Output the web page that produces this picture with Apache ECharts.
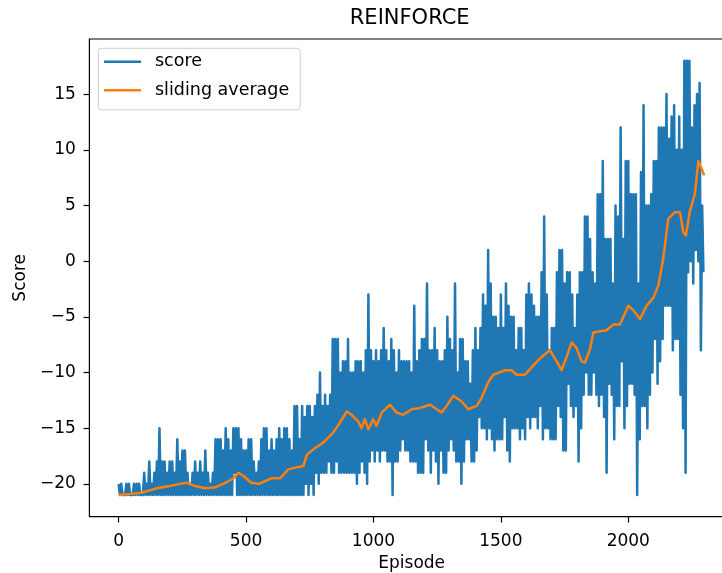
<!DOCTYPE html>
<html>
<head>
<meta charset="utf-8">
<script src="https://cdn.jsdelivr.net/npm/echarts@6/dist/echarts.min.js"></script>
<style>
  html, body { margin: 0; padding: 0; background: #ffffff; }
  #chart { width: 722px; height: 573px; }
</style>
</head>
<body>
<div id="chart"></div>
<script>
// Chart text
const chartTitle = 'REINFORCE';
const xName = 'Episode';
const yName = 'Score';
const seriesNames = ['score', 'sliding average'];

// Tick positions
const xTicks = [0, 500, 1000, 1500, 2000];
const yTicks = [-20, -15, -10, -5, 0, 5, 10, 15];

// Episode score, one reading every 5 episodes (rows of 100 episodes)
const scoreStep = 5;
const score = [
  -20,-21,-20,-21,-21,-21,-20,-21,-20,-21,-21,-21,-20,-21,-20,-21,-20,-21,-21,-21,
  -19,-21,-20,-21,-18,-21,-20,-21,-19,-21,-18,-21,-15,-21,-18,-21,-18,-21,-19,-21,
  -18,-21,-18,-21,-19,-21,-16,-21,-18,-21,-17,-21,-17,-21,-19,-21,-20,-21,-19,-21,
  -18,-21,-19,-21,-18,-21,-19,-21,-17,-21,-19,-21,-20,-21,-19,-21,-16,-21,-16,-21,
  -16,-21,-17,-21,-15,-21,-16,-21,-17,-21,-15,-19,-15,-21,-15,-21,-16,-21,-17,-21,
  -17,-21,-16,-21,-16,-21,-18,-21,-19,-21,-18,-21,-16,-21,-15,-21,-15,-21,-17,-21,
  -16,-21,-17,-21,-16,-21,-15,-21,-16,-21,-15,-21,-15,-21,-16,-21,-17,-21,-13,-21,
  -13,-21,-16,-21,-13,-21,-14,-20,-13,-21,-13,-20,-14,-21,-13,-19,-12,-20,-10,-19,
  -13,-19,-12,-19,-13,-18,-12,-19,-7,-19,-7,-18,-7,-19,-10,-19,-9,-19,-9,-19,
  -7,-19,-10,-19,-10,-19,-9,-20,-9,-19,-9,-18,-10,-19,-8,-20,-3,-18,-8,-17,
  -9,-18,-8,-17,-9,-18,-8,-17,-6,-17,-8,-18,-9,-18,-7,-21,-8,-18,-10,-18,
  -8,-17,-9,-16,-9,-17,-9,-17,-9,-18,-10,-18,-4,-18,-9,-19,-8,-19,-7,-19,
  -7,-16,-2,-17,-8,-19,-8,-17,-6,-18,-8,-20,-9,-17,-9,-19,-8,-19,-5,-17,
  -7,-16,-8,-17,-2,-18,-10,-18,-7,-20,-7,-18,-9,-16,-9,-16,-11,-18,-8,-18,
  -6,-17,-8,-14,-6,-15,-3,-15,-4,-16,1,-15,-2,-16,-5,-17,-5,-16,-6,-16,
  -3,-16,-6,-14,-2,-17,-4,-18,-5,-15,-5,-15,-8,-15,-6,-16,-6,-15,-8,-16,
  -3,-14,-2,-15,-3,-14,-4,-14,-5,-15,-5,-13,-1,-16,4,-15,-3,-15,-8,-16,
  -6,-16,-6,-16,-1,-13,1,-14,1,-17,-2,-17,-1,-11,-1,-13,-3,-14,-6,-13,
  -3,-18,-1,-15,-1,-12,4,-10,4,-12,2,-12,-1,-10,-2,-12,6,-13,6,-12,
  9,-14,2,-19,2,-11,2,-12,-2,-16,5,-13,4,-13,12,-9,2,-15,9,-13,
  9,-11,6,-11,6,-12,6,-21,-2,-16,8,-13,14,-13,5,-15,5,-12,6,-10,
  9,-7,9,-11,12,-9,12,-7,12,-4,15,-4,11,-4,13,-8,14,-7,10,-7,
  13,-12,10,-15,18,-19,18,-1,18,0,12,-2,14,1,15,0,16,-8,5,-1
];

// Sliding average of the score
const avgEpisodes = [
  0,50,90,120,150,200,240,270,300,340,380,420,450,470,490,520,550,580,600,633,
  666,700,725,738,764,803,842,868,895,914,940,953,966,980,999,1012,1032,1065,1091,1117,
  1150,1182,1222,1248,1267,1287,1313,1346,1372,1405,1424,1450,1470,1516,1542,1562,1594,1607,1634,1660,
  1692,1719,1738,1758,1778,1797,1817,1830,1850,1863,1889,1915,1941,1967,2000,2020,2046,2072,2098,2118,
  2137,2157,2183,2203,2216,2226,2242,2262,2275,2288,2298
];
const avgValues = [
  -21,-20.9,-20.8,-20.6,-20.4,-20.2,-20.0,-19.9,-20.2,-20.4,-20.3,-19.9,-19.5,-19.0,-19.3,-19.9,-20.0,-19.7,-19.5,-19.5,
  -18.7,-18.5,-18.4,-17.4,-16.9,-16.3,-15.4,-14.5,-13.5,-13.8,-14.4,-15.0,-14.2,-15.1,-14.2,-14.8,-13.6,-12.9,-13.6,-13.8,
  -13.3,-13.2,-12.9,-13.3,-13.6,-13.0,-12.1,-12.6,-13.3,-13.0,-12.3,-10.9,-10.2,-9.8,-9.8,-10.2,-10.2,-9.9,-9.2,-8.6,
  -8.0,-9.0,-9.8,-8.6,-7.3,-7.8,-9.0,-9.1,-7.9,-6.4,-6.3,-6.2,-5.7,-5.7,-4.0,-4.4,-5.2,-4.0,-3.3,-2.2,
  0.2,3.8,4.4,4.4,2.6,2.3,4.5,6.1,9.0,8.3,7.7
];

const scoreData = score.map((v, i) => [i * scoreStep, v]);
const avgData = avgEpisodes.map((e, i) => [e, avgValues[i]]);

const FONT = '"DejaVu Sans", "Liberation Sans", sans-serif';
const INK = '#000000';
const minusSign = v => String(v).replace('-', '\u2212');

// Plot frame (the right edge sits just past the canvas)
const plotLeft = 89.4, plotTop = 39, plotWidth = 644.6, plotHeight = 477.7;

const chart = echarts.init(document.getElementById('chart'), null, { renderer: 'canvas' });
chart.setOption({
  animation: false,
  backgroundColor: '#ffffff',
  graphic: [{
    type: 'text',
    x: plotLeft + plotWidth / 2 - 2,
    y: 18.5,
    style: {
      text: chartTitle,
      font: '21px ' + FONT,
      fill: INK,
      textAlign: 'center',
      textVerticalAlign: 'middle'
    }
  }],
  legend: {
    data: seriesNames,
    orient: 'vertical',
    left: 98.3,
    top: 48.3,
    icon: 'rect',
    itemWidth: 37,
    itemHeight: 2.5,
    itemGap: 10.5,
    padding: [4.5, 11, 10.5, 5.7],
    backgroundColor: 'rgba(255,255,255,0.8)',
    borderColor: '#cccccc',
    borderWidth: 1,
    borderRadius: 3,
    selectedMode: false,
    textStyle: { fontFamily: FONT, fontSize: 17.5, color: INK, padding: [0, 0, 0, 9] }
  },
  grid: {
    left: plotLeft,
    top: plotTop,
    width: plotWidth,
    height: plotHeight,
    outerBoundsMode: 'none',
    containLabel: false,
    show: true,
    borderColor: INK,
    borderWidth: 1.2,
    backgroundColor: 'transparent'
  },
  xAxis: {
    type: 'value',
    position: 'bottom',
    min: -115,
    max: 2415,
    name: xName,
    nameLocation: 'middle',
    nameGap: 38,
    nameTextStyle: { fontFamily: FONT, fontSize: 17, color: INK },
    axisLine: { show: false, onZero: false },
    splitLine: { show: false },
    axisTick: { show: true, length: 5.8, customValues: xTicks, lineStyle: { color: INK, width: 1.2 } },
    axisLabel: { customValues: xTicks, margin: 16, fontFamily: FONT, fontSize: 17, color: INK, formatter: minusSign }
  },
  yAxis: {
    type: 'value',
    position: 'left',
    min: -22.95,
    max: 19.95,
    name: yName,
    nameLocation: 'middle',
    nameGap: 55,
    nameTextStyle: { fontFamily: FONT, fontSize: 17, color: INK },
    axisLine: { show: false, onZero: false },
    splitLine: { show: false },
    axisTick: { show: true, length: 5.8, customValues: yTicks, lineStyle: { color: INK, width: 1.2 } },
    axisLabel: { customValues: yTicks, margin: 13.5, fontFamily: FONT, fontSize: 17, color: INK, formatter: minusSign }
  },
  series: [
    {
      name: seriesNames[0],
      type: 'line',
      data: scoreData,
      showSymbol: false,
      symbol: 'none',
      color: '#1f77b4',
      lineStyle: { width: 2.5, color: '#1f77b4', join: 'round' },
      z: 2
    },
    {
      name: seriesNames[1],
      type: 'line',
      data: avgData,
      showSymbol: false,
      symbol: 'none',
      color: '#ff7f0e',
      lineStyle: { width: 2.5, color: '#ff7f0e', join: 'round' },
      z: 3
    }
  ]
});
</script>
</body>
</html>
